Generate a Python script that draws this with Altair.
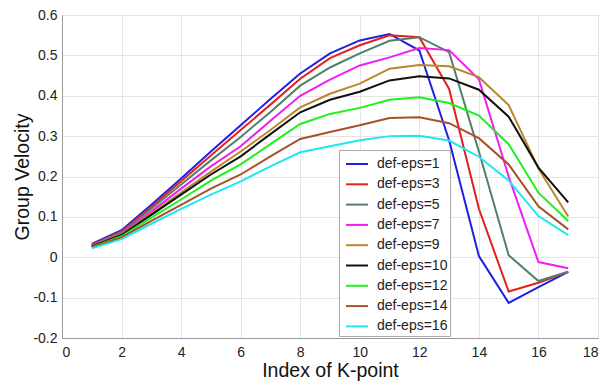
import altair as alt
import pandas as pd

k_points = list(range(1, 18))
series_names = ["def-eps=1", "def-eps=3", "def-eps=5", "def-eps=7", "def-eps=9",
                "def-eps=10", "def-eps=12", "def-eps=14", "def-eps=16"]
series_colors = ["#1f1fe6", "#e61e1e", "#4f8068", "#f01ef0", "#b8882a",
                 "#111111", "#1ef01e", "#a5522a", "#1ee8f0"]

eps1 = [0.033, 0.067, 0.130, 0.195, 0.262, 0.327, 0.392, 0.455, 0.505, 0.537, 0.553, 0.512, 0.290, 0.003, -0.113, -0.074, -0.036]
eps3 = [0.031, 0.064, 0.125, 0.188, 0.252, 0.315, 0.378, 0.442, 0.493, 0.525, 0.550, 0.545, 0.417, 0.120, -0.085, -0.063, -0.036]
eps5 = [0.030, 0.062, 0.120, 0.180, 0.240, 0.298, 0.360, 0.425, 0.470, 0.505, 0.536, 0.545, 0.508, 0.262, 0.005, -0.059, -0.036]
eps7 = [0.029, 0.059, 0.113, 0.170, 0.225, 0.275, 0.338, 0.400, 0.440, 0.475, 0.495, 0.518, 0.513, 0.441, 0.200, -0.012, -0.027]
eps9 = [0.028, 0.057, 0.108, 0.160, 0.212, 0.262, 0.315, 0.371, 0.405, 0.430, 0.467, 0.476, 0.473, 0.446, 0.377, 0.220, 0.101]
eps10 = [0.027, 0.055, 0.105, 0.155, 0.205, 0.250, 0.305, 0.359, 0.390, 0.410, 0.438, 0.448, 0.443, 0.415, 0.348, 0.222, 0.136]
eps12 = [0.025, 0.052, 0.098, 0.143, 0.190, 0.230, 0.280, 0.330, 0.355, 0.370, 0.390, 0.396, 0.382, 0.351, 0.280, 0.160, 0.090]
eps14 = [0.024, 0.049, 0.090, 0.130, 0.170, 0.205, 0.250, 0.293, 0.310, 0.327, 0.345, 0.347, 0.332, 0.295, 0.230, 0.126, 0.069]
eps16 = [0.022, 0.045, 0.083, 0.120, 0.155, 0.188, 0.225, 0.260, 0.275, 0.290, 0.300, 0.301, 0.289, 0.249, 0.190, 0.102, 0.055]

x_ticks = [0, 2, 4, 6, 8, 10, 12, 14, 16, 18]
y_ticks = [-0.2, -0.1, 0, 0.1, 0.2, 0.3, 0.4, 0.5, 0.6]

all_series = [eps1, eps3, eps5, eps7, eps9, eps10, eps12, eps14, eps16]
rows = []
for order, (name, vals) in enumerate(zip(series_names, all_series)):
    for k, v in zip(k_points, vals):
        rows.append({"k": k, "v": v, "series": name, "order": order})
df = pd.DataFrame(rows)

FONT = "Liberation Sans"

chart = alt.Chart(df).mark_line(strokeWidth=2).encode(
    x=alt.X("k:Q", title="Index of K-point",
            scale=alt.Scale(domain=[0, 18], nice=False),
            axis=alt.Axis(values=x_ticks, labelExpr="'' + datum.value")),
    y=alt.Y("v:Q", title="Group Velocity",
            scale=alt.Scale(domain=[-0.2, 0.6], nice=False, zero=False),
            axis=alt.Axis(values=y_ticks, labelExpr="'' + datum.value")),
    color=alt.Color("series:N", sort=series_names,
                    scale=alt.Scale(domain=series_names, range=series_colors),
                    legend=alt.Legend(title=None, orient="none", legendX=277, legendY=135,
                                      symbolType="stroke", symbolSize=484, symbolStrokeWidth=2,
                                      symbolOffset=4,
                                      labelFontSize=14, labelFont=FONT, labelColor="#222222",
                                      fillColor="white", strokeColor="#aaaaaa",
                                      padding=2, rowPadding=1.3, labelOffset=8)),
    order=alt.Order("order:Q"),
).properties(
    width=536, height=323,
    autosize=alt.AutoSizeParams(type="none"),
    padding={"left": 62, "top": 15, "right": 15, "bottom": 44},
).configure_view(
    stroke="#9a9a9a", strokeWidth=1
).configure_axis(
    grid=True, gridColor="#e4e4e4", gridWidth=1,
    domainColor="#9a9a9a", ticks=False,
    labelFont=FONT, labelFontSize=14, labelColor="#222222",
    titleFont=FONT, titleFontSize=19.5, titleFontWeight="normal", titleColor="#111111",
).configure_axisX(
    labelPadding=7, titlePadding=2
).configure_axisY(
    labelPadding=5, titlePadding=0
)

chart.save("out.html", embed_options={"renderer": "svg", "actions": False})
